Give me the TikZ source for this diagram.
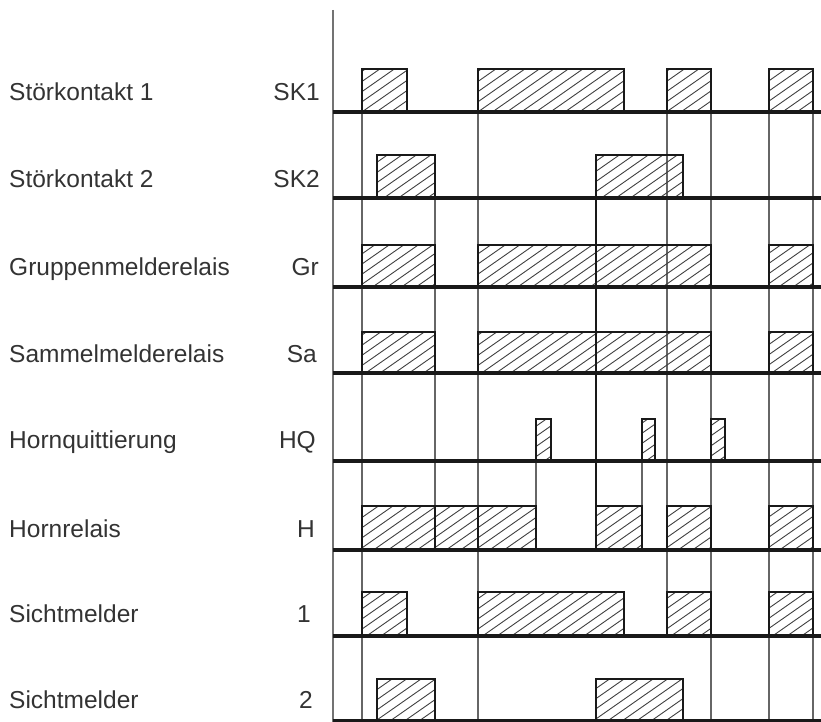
\documentclass[tikz,border=0pt]{standalone}
\usepackage{fontspec}
\setmainfont{Liberation Sans}
\newcommand\hatchrect[4]{%
  \begin{scope}
    \clip (#1,#2) rectangle (#3,#4);
    \pgfmathtruncatemacro\kmin{(#1+1.43*#2)/14.5-1}
    \pgfmathtruncatemacro\kmax{(#3+1.43*#4)/14.5+1}
    \foreach \k in {\kmin,...,\kmax}{
      \draw[hatchline] ({14.5*\k-1.43*#4},#4) -- ({14.5*\k-1.43*#2},#2);
    }
  \end{scope}
  \draw[pulseedge] (#1,#4) -- (#1,#2) -- (#3,#2) -- (#3,#4);
}
\begin{document}
\begin{tikzpicture}[x=1pt,y=-1pt,
  sigline/.style={line width=3.2pt, draw=black!90},
  pulseedge/.style={line width=2pt, draw=black!90, line join=miter},
  gridline/.style={line width=1.2pt, draw=black!60},
  thickgrid/.style={line width=2.6pt, draw=black!90},
  axisline/.style={line width=1.4pt, draw=black!55},
  hatchline/.style={line width=0.9pt, draw=black!75},
  lbl/.style={anchor=base west, inner sep=0pt, text=black!80, font=\fontsize{24.5}{25}\selectfont},
  abbr/.style={anchor=base east, inner sep=0pt, text=black!80, font=\fontsize{24.5}{25}\selectfont}]
\useasboundingbox (0,0) rectangle (821,722);
% axis
\draw[axisline] (333,10) -- (333,722);
% grid lines
\foreach \x in {362,478,711,769,813} \draw[gridline] (\x,112) -- (\x,722);
\draw[gridline] (435,198) -- (435,550);
\draw[gridline] (667,112) -- (667,592);
\draw[gridline] (536,461) -- (536,550);
\draw[gridline] (642,461) -- (642,550);
% SK1
\foreach \a/\b in {362/407,478/624,667/711,769/813} {\hatchrect{\a}{69}{\b}{112}}
% SK2
\foreach \a/\b in {377/435,596/683} {\hatchrect{\a}{155}{\b}{198}}
% Gr
\foreach \a/\b in {362/435,478/711,769/813} {\hatchrect{\a}{245}{\b}{287}}
% Sa
\foreach \a/\b in {362/435,478/711,769/813} {\hatchrect{\a}{332}{\b}{373}}
% HQ
\foreach \a/\b in {536/551,642/655,711/725} {\hatchrect{\a}{419}{\b}{461}}
% H
\foreach \a/\b in {362/435,435/478,478/536,596/642,667/711,769/813} {\hatchrect{\a}{506}{\b}{550}}
% Sichtmelder 1
\foreach \a/\b in {362/407,478/624,667/711,769/813} {\hatchrect{\a}{592}{\b}{636}}
% Sichtmelder 2
\foreach \a/\b in {377/435,596/683} {\hatchrect{\a}{679}{\b}{721}}
% thick vertical
\draw[thickgrid] (596,155) -- (596,550);
% signal baselines
\foreach \y in {112,198,287,373,461,550,636,720.5} \draw[sigline] (333,\y) -- (821,\y);
% labels
\node[lbl] (l1) at (9,101) {Störkontakt 1};
\node[lbl] (l2) at (9,188) {Störkontakt 2};
\node[lbl] (l3) at (9,275) {Gruppenmelderelais};
\node[lbl] (l4) at (9,362) {Sammelmelderelais};
\node[lbl] (l5) at (9,448) {Hornquittierung};
\node[lbl] (l6) at (9,537) {Hornrelais};
\node[lbl] (l7) at (9,622) {Sichtmelder};
\node[lbl] (l8) at (9,708) {Sichtmelder};
\node[abbr] (a1) at (320,101) {SK1};
\node[abbr] (a2) at (320,188) {SK2};
\node[abbr] (a3) at (319,275) {Gr};
\node[abbr] (a4) at (317,362) {Sa};
\node[abbr] (a5) at (316,448) {HQ};
\node[abbr] (a6) at (315,537) {H};
\node[abbr] (a7) at (311,622) {1};
\node[abbr] (a8) at (313,708) {2};
\end{tikzpicture}
\end{document}
